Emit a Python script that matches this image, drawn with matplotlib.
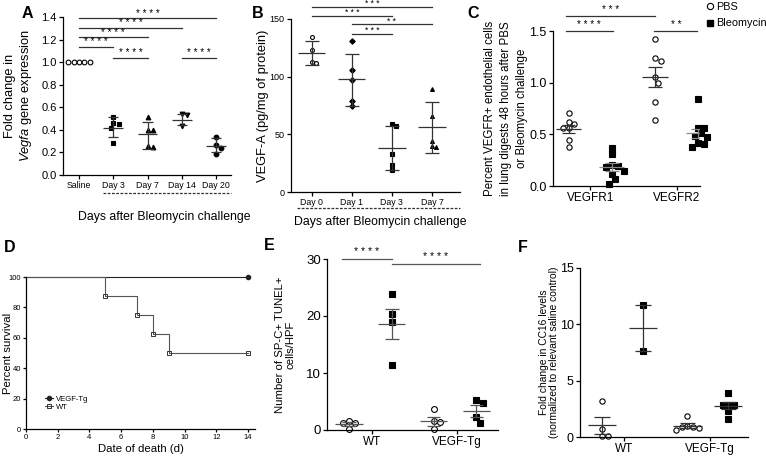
import numpy as np
import matplotlib
matplotlib.use("Agg")
import matplotlib.pyplot as plt
from matplotlib.lines import Line2D

plt.rcParams['font.family'] = ['Liberation Sans', 'DejaVu Sans']
plt.rcParams['mathtext.fontset'] = 'custom'
plt.rcParams['mathtext.it'] = 'Liberation Sans:italic'
plt.rcParams['mathtext.rm'] = 'Liberation Sans'

W, H = 766, 457

# A - Vegfa expression after bleomycin
a_groups = ["Saline", "Day 3", "Day 7", "Day 14", "Day 20"]
a_points = [[1.0, 1.0, 1.0, 1.0, 1.0],
            [0.51, 0.46, 0.45, 0.42, 0.28],
            [0.51, 0.40, 0.40, 0.26, 0.25],
            [0.54, 0.53, 0.43],
            [0.34, 0.27, 0.24, 0.19]]
a_mean = [1.0, 0.42, 0.36, 0.49, 0.26]
a_lo = [1.0, 0.34, 0.23, 0.44, 0.20]
a_hi = [1.0, 0.51, 0.47, 0.54, 0.325]
a_markers = ["o", "s", "^", "v", "o"]
a_filled = [False, True, True, True, True]
a_sig = [(0, 4, 1.39, "****"), (0, 3, 1.305, "****"), (0, 2, 1.22, "****"),
         (0, 1, 1.135, "****"), (1, 2, 1.04, "****"), (3, 4, 1.04, "****")]

# B - VEGF-A protein
b_groups = ["Day 0", "Day 1", "Day 3", "Day 7"]
b_points = [[134, 123, 112, 113],
            [130.5, 106, 97, 79, 75],
            [57, 59, 33, 23.6, 19],
            [89, 66, 44, 39, 40]]
b_mean = [120.4, 97.7, 38, 56]
b_lo = [110, 75, 19.5, 34]
b_hi = [131, 120, 57, 78]
b_markers = ["o", "D", "s", "^"]
b_filled = [False, True, True, True]
b_sig = [(0, 3, 160.6, "***"), (0, 2, 152.6, "***"), (1, 3, 145.4, "**"), (1, 2, 137, "***")]

# C - VEGFR+ endothelial cells
c_groups = ["VEGFR1", "VEGFR2"]
c_pbs = [[0.71, 0.62, 0.56, 0.56, 0.60, 0.445, 0.38],
         [1.42, 1.24, 1.21, 1.0, 1.055, 0.81, 0.64]]
c_bleo = [[0.37, 0.31, 0.19, 0.20, 0.18, 0.15, 0.12, 0.065, 0.02],
          [0.84, 0.56, 0.56, 0.48, 0.47, 0.51, 0.42, 0.38, 0.41]]
c_pbs_mean = [0.555, 1.055]
c_pbs_err = [0.04, 0.10]
c_bleo_mean = [0.185, 0.51]
c_bleo_err = [0.035, 0.045]

# D - survival
d_wt_days = [0, 5, 7, 8, 9, 14]
d_wt_surv = [100, 87.5, 75, 62.5, 50, 50]
d_tg_days = [0, 14]
d_tg_surv = [100, 100]

# E - SP-C+ TUNEL+ cells
e_groups = ["WT", "VEGF-Tg"]
e_pbs = [[1.3, 0.1, 1.2, 1.5], [3.7, 1.5, 1.4, 0.1]]
e_bleo = [[23.9, 20.3, 19.0, 11.4], [5.3, 4.7, 2.3, 1.3]]
e_pbs_mean = [1.0, 1.5]
e_pbs_err = [0.35, 0.8]
e_bleo_mean = [18.65, 3.4]
e_bleo_err = [2.6, 1.05]

# F - CC16
f_groups = ["WT", "VEGF-Tg"]
f_pbs = [[3.2, 0.7, 0.06, 0.06], [1.9, 0.9, 0.8, 0.6, 0.9, 1.0]]
f_bleo = [[11.7, 7.63], [3.9, 2.85, 2.85, 2.8, 2.3, 1.6]]
f_pbs_mean = [1.03, 1.0]
f_pbs_err = [0.74, 0.22]
f_bleo_mean = [9.67, 2.78]
f_bleo_err = [2.03, 0.33]

fig = plt.figure(figsize=(W / 100, H / 100), dpi=100)


def axes_px(left, top, right, bottom):
    return fig.add_axes([left / W, 1 - bottom / H, (right - left) / W, (bottom - top) / H])


def style(ax, fs):
    for s in ("top", "right"):
        ax.spines[s].set_visible(False)
    for s in ("left", "bottom"):
        ax.spines[s].set_linewidth(0.9)
    ax.tick_params(direction="out", length=3, width=0.9, labelsize=fs, pad=1.5)


def swarm(ax, vals, diam_px):
    # simple beeswarm offsets, like a prism scatter column
    bb = ax.get_position()
    x0, x1 = ax.get_xlim()
    y0, y1 = ax.get_ylim()
    dx = diam_px * (x1 - x0) / (bb.width * W)
    dy = diam_px * (y1 - y0) / (bb.height * H)
    vals = np.asarray(vals, float)
    offs = np.zeros(len(vals))
    placed = []
    cands = [0.0] + [s * k * 0.5 for k in range(1, 40) for s in (1, -1)]
    for i in np.argsort(-vals):
        y = vals[i] / dy
        for c in cands:
            if all((c - px) ** 2 + (y - py) ** 2 >= 0.95 for px, py in placed):
                break
        placed.append((c, y))
        offs[i] = c * dx
    return offs


def dots(ax, x, vals, marker, filled, ms):
    offs = swarm(ax, vals, ms * 1.39 + 0.6)
    ax.plot(x + offs, vals, ls="none", marker=marker, ms=ms,
            mfc="black" if filled else "none", mec="black", mew=0.8,
            zorder=2, clip_on=False)


def bars(ax, x, mean, lo, hi, hw, cw, color="#333333", lw=0.9):
    kw = dict(color=color, lw=lw, zorder=3, solid_capstyle="butt")
    ax.plot([x - hw, x + hw], [mean, mean], **kw)
    ax.plot([x, x], [lo, hi], **kw)
    ax.plot([x - cw, x + cw], [lo, lo], **kw)
    ax.plot([x - cw, x + cw], [hi, hi], **kw)


def sig(ax, x1, x2, y, txt, fs, gap, color="#333333"):
    ax.plot([x1, x2], [y, y], color=color, lw=0.9, clip_on=False)
    ax.text((x1 + x2) / 2, y + gap, " ".join(txt), ha="center", va="center", fontsize=fs)


# ---------------- A
ax = axes_px(63, 17, 231, 175)
ax.set_xlim(-0.47, 4.44)
ax.set_ylim(0, 1.4)
style(ax, 8)
for i in range(len(a_groups)):
    dots(ax, i, a_points[i], a_markers[i], a_filled[i], 3.4)
    if i > 0:
        bars(ax, i, a_mean[i], a_lo[i], a_hi[i], 0.29, 0.15)
for x1, x2, y, t in a_sig:
    sig(ax, x1, x2, y, t, 7, 0.04)
ax.set_xticks(range(len(a_groups)))
ax.set_xticklabels(a_groups, fontsize=6.3)
ax.set_yticks(np.arange(0, 1.41, 0.2))
ax.set_yticklabels([f"{v:.1f}" for v in np.arange(0, 1.41, 0.2)])
ax.set_ylabel("Fold change in\n$\\it{Vegfa}$ gene expression", fontsize=9.3, va="center")
ax.yaxis.set_label_coords(-0.26, 0.5)
ax.plot([0.7, 4.43], [-0.115, -0.115], transform=ax.get_xaxis_transform(),
        color="#333333", lw=0.9, ls=(0, (2.2, 1.2)), clip_on=False)
ax.text(0.60, -0.266, "Days after Bleomycin challenge", transform=ax.transAxes,
        ha="center", va="center", fontsize=8.8)

# ---------------- B
ax = axes_px(291, 19, 460, 192)
ax.set_xlim(-0.52, 3.7)
ax.set_ylim(0, 150)
style(ax, 6.5)
for i in range(len(b_groups)):
    dots(ax, i, b_points[i], b_markers[i], b_filled[i], 2.8)
    bars(ax, i, b_mean[i], b_lo[i], b_hi[i], 0.34, 0.18)
for x1, x2, y, t in b_sig:
    sig(ax, x1, x2, y, t, 6.2, 2.8)
ax.set_xticks(range(len(b_groups)))
ax.set_xticklabels(b_groups, fontsize=6.3)
ax.set_yticks([0, 50, 100, 150])
ax.set_ylabel("VEGF-A (pg/mg of protein)", fontsize=9.3, va="center")
ax.yaxis.set_label_coords(-0.165, 0.5)
ax.plot([-0.37, 3.7], [-0.095, -0.095], transform=ax.get_xaxis_transform(),
        color="#333333", lw=0.9, ls=(0, (2.2, 1.2)), clip_on=False)
ax.text(0.53, -0.175, "Days after Bleomycin challenge", transform=ax.transAxes,
        ha="center", va="center", fontsize=8.8)

# ---------------- C
ax = axes_px(553, 31, 700, 186)
ax.set_xlim(-0.43, 1.27)
ax.set_ylim(0, 1.5)
style(ax, 9)
for i in range(len(c_groups)):
    dots(ax, i - 0.25, c_pbs[i], "o", False, 3.8)
    dots(ax, i + 0.25, c_bleo[i], "s", True, 3.8)
    bars(ax, i - 0.25, c_pbs_mean[i], c_pbs_mean[i] - c_pbs_err[i],
         c_pbs_mean[i] + c_pbs_err[i], 0.145, 0.08)
    bars(ax, i + 0.25, c_bleo_mean[i], c_bleo_mean[i] - c_bleo_err[i],
         c_bleo_mean[i] + c_bleo_err[i], 0.145, 0.08, color="#888888")
sig(ax, -0.28, 0.26, 1.5, "****", 7, 0.06)
sig(ax, -0.28, 0.75, 1.645, "***", 7, 0.06)
sig(ax, 0.74, 1.24, 1.5, "**", 7, 0.06)
ax.set_xticks(range(len(c_groups)))
ax.set_xticklabels(c_groups, fontsize=8.5)
ax.set_yticks([0, 0.5, 1.0, 1.5])
ax.set_yticklabels(["0.0", "0.5", "1.0", "1.5"])
ax.set_ylabel("Percent VEGFR+ endothelial cells\nin lung digests 48 hours after PBS\nor Bleomycin challenge",
              fontsize=8.3, va="center", linespacing=1.4)
ax.yaxis.set_label_coords(-0.32, 0.5)
handles = [Line2D([], [], ls="none", marker="o", mfc="none", mec="black", ms=4.5, mew=0.8),
           Line2D([], [], ls="none", marker="s", mfc="black", mec="black", ms=4.5)]
fig.legend(handles, ["PBS", "Bleomycin"], loc="upper left", bbox_to_anchor=(700 / W, 1.01),
           frameon=False, fontsize=7.8, handlelength=0.6, handletextpad=0.3, labelspacing=0.6,
           borderaxespad=0.2)

# ---------------- D
ax = axes_px(26, 277, 255, 429)
ax.set_xlim(0, 14.44)
ax.set_ylim(0, 100)
style(ax, 5.5)
ax.tick_params(length=2.5, pad=1)
ax.plot(d_tg_days, d_tg_surv, drawstyle="steps-post", color="#222222", lw=0.8,
        marker="o", ms=3, markevery=[1], clip_on=False, label="VEGF-Tg")
ax.plot(d_wt_days, d_wt_surv, drawstyle="steps-post", color="#555555", lw=0.8,
        marker="s", ms=3.3, mfc="none", mec="#333333", mew=0.7,
        markevery=list(range(1, len(d_wt_days))), clip_on=False, label="WT")
ax.set_xticks(range(0, 15, 2))
ax.set_yticks(range(0, 101, 20))
ax.set_ylabel("Percent survival", fontsize=8.2, va="center")
ax.yaxis.set_label_coords(-0.08, 0.5)
ax.set_xlabel("Date of death (d)", fontsize=8.2, va="center")
ax.xaxis.set_label_coords(0.5, -0.13)
ax.legend(loc="lower left", bbox_to_anchor=(0.07, 0.1), frameon=False, fontsize=5.5,
          handlelength=1.0, handletextpad=0.4, labelspacing=0.1, borderaxespad=0)

# ---------------- E
ax = axes_px(327, 259, 498, 430)
ax.set_xlim(-0.53, 1.49)
ax.set_ylim(0, 30)
style(ax, 9.5)
for i in range(len(e_groups)):
    dots(ax, i - 0.27, e_pbs[i], "o", False, 4.2)
    dots(ax, i + 0.235, e_bleo[i], "s", True, 4.2)
    bars(ax, i - 0.27, e_pbs_mean[i], e_pbs_mean[i] - e_pbs_err[i],
         e_pbs_mean[i] + e_pbs_err[i], 0.16, 0.08, color="#555555")
    bars(ax, i + 0.235, e_bleo_mean[i], e_bleo_mean[i] - e_bleo_err[i],
         e_bleo_mean[i] + e_bleo_err[i], 0.16, 0.08, color="#555555")
sig(ax, -0.35, 0.235, 30, "****", 7.5, 1.3, color="#555555")
sig(ax, 0.235, 1.28, 29.1, "****", 7.5, 1.3, color="#555555")
ax.set_xticks(range(len(e_groups)))
ax.set_xticklabels(e_groups, fontsize=8.5)
ax.set_yticks([0, 10, 20, 30])
ax.set_ylabel("Number of SP-C+ TUNEL+\ncells/HPF", fontsize=8.2, va="center", linespacing=1.1)
ax.yaxis.set_label_coords(-0.245, 0.5)

# ---------------- F
ax = axes_px(580, 268, 748, 437)
ax.set_xlim(-0.52, 1.45)
ax.set_ylim(0, 15)
style(ax, 9)
for i in range(len(f_groups)):
    dots(ax, i - 0.26, f_pbs[i], "o", False, 3.8)
    dots(ax, i + 0.22, f_bleo[i], "s", True, 3.8)
    bars(ax, i - 0.26, f_pbs_mean[i], f_pbs_mean[i] - f_pbs_err[i],
         f_pbs_mean[i] + f_pbs_err[i], 0.165, 0.09)
    bars(ax, i + 0.22, f_bleo_mean[i], f_bleo_mean[i] - f_bleo_err[i],
         f_bleo_mean[i] + f_bleo_err[i], 0.165, 0.09)
ax.set_xticks(range(len(f_groups)))
ax.set_xticklabels(f_groups, fontsize=8.5)
ax.set_yticks([0, 5, 10, 15])
ax.set_ylabel("Fold change in CC16 levels\n(normalized to relevant saline control)",
              fontsize=7.4, va="center", linespacing=1.1)
ax.yaxis.set_label_coords(-0.185, 0.5)

# panel letters
for letter, x, y in [("A", 22, 13), ("B", 252, 13), ("C", 467, 13),
                     ("D", 4, 248), ("E", 264, 246), ("F", 518, 248)]:
    fig.text(x / W, 1 - y / H, letter, fontsize=11.5, fontweight="bold", va="center", ha="left")

fig.savefig("out.png", dpi=100)
